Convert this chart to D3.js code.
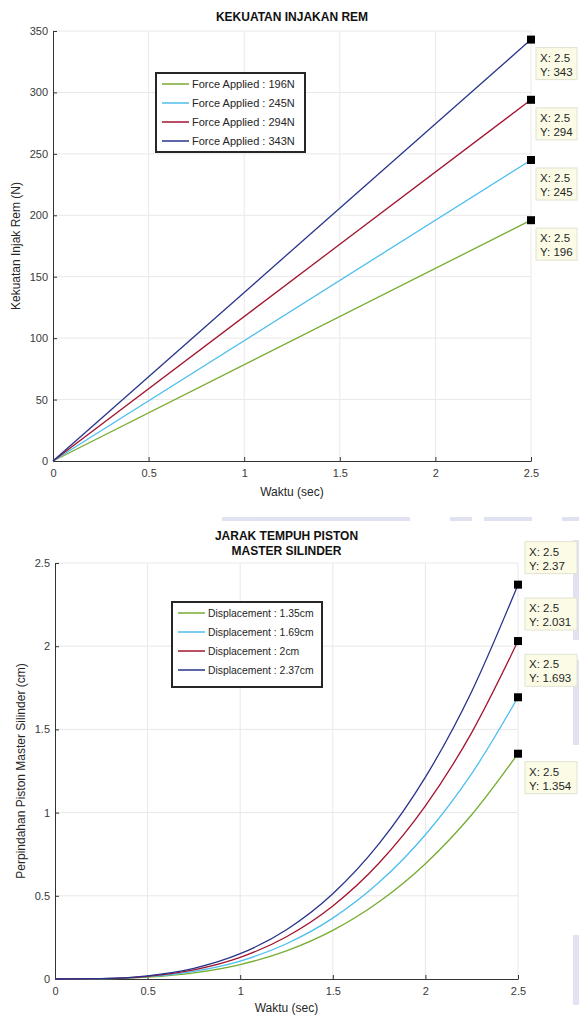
<!DOCTYPE html>
<html>
<head>
<meta charset="utf-8">
<script src="https://cdn.jsdelivr.net/npm/d3@7"></script>
<style>
    body{ margin:0; background:#fff; }
    .tick text{ font-family:"Liberation Sans", Arial, sans-serif; font-size:11px; fill:#3a3a3a; }
    .lbl{ font-family:"Liberation Sans", Arial, sans-serif; font-size:12px; fill:#262626; }
    .ttl{ font-family:"Liberation Sans", Arial, sans-serif; font-size:12px; font-weight:bold; fill:#111; }
    .leg{ font-family:"Liberation Sans", Arial, sans-serif; fill:#262626; }
    .tip{ font-family:"Liberation Sans", Arial, sans-serif; font-size:11.5px; fill:#262626; }
</style>
</head>
<body>
<script>
    // ---- data ----
    let colors = ["#77ac30", "#4dbeee", "#a2142f", "#27348b"]

    // chart 1: force vs time (straight lines)
    let forceTime = [0, 2.5]
    let forceNames = ["Force Applied : 196N", "Force Applied : 245N", "Force Applied : 294N", "Force Applied : 343N"]
    let forceVals = [[0, 196], [0, 245], [0, 294], [0, 343]]
    let forceTips = ["343", "294", "245", "196"]
    let forceYTicks = [0, 50, 100, 150, 200, 250, 300, 350]

    // chart 2: piston displacement vs time
    let dispTime = [0, 0.25, 0.5, 0.75, 1, 1.25, 1.5, 1.75, 2, 2.25, 2.5]
    let dispNames = ["Displacement : 1.35cm", "Displacement : 1.69cm", "Displacement : 2cm", "Displacement : 2.37cm"]
    let dispVals = [
        [0, 0.001, 0.011, 0.037, 0.087, 0.169, 0.292, 0.464, 0.693, 0.987, 1.354],
        [0, 0.002, 0.014, 0.046, 0.108, 0.212, 0.366, 0.581, 0.867, 1.234, 1.693],
        [0, 0.002, 0.016, 0.055, 0.130, 0.254, 0.439, 0.697, 1.040, 1.481, 2.031],
        [0, 0.002, 0.019, 0.064, 0.152, 0.296, 0.512, 0.813, 1.213, 1.728, 2.370]
    ]
    let dispTips = ["2.37", "2.031", "1.693", "1.354"]
    let dispYTicks = [0, 0.5, 1, 1.5, 2, 2.5]
    let xTicks = [0, 0.5, 1, 1.5, 2, 2.5]

    let w = 579, h = 1015
    let svg = d3.select("body").append("svg").attr("width", w).attr("height", h)

    // faint watermark left over from the scanned page
    let wm = svg.append("g").attr("fill", "#c8cce8").attr("opacity", 0.55)
    for (let r of [[222, 517, 188, 4], [450, 517, 22, 4], [484, 517, 48, 4], [562, 517, 17, 4],
                   [573, 540, 6, 100], [573, 660, 6, 85], [573, 935, 6, 70]]){
        wm.append("rect").attr("x", r[0]).attr("y", r[1]).attr("width", r[2]).attr("height", r[3])
    }

    function drawChart(opt){
        let x = d3.scaleLinear().domain([0, 2.5]).range([opt.x0, opt.x1])
        let y = d3.scaleLinear().domain(opt.yDomain).range([opt.y0, opt.y1])
        let g = svg.append("g")

        // grid
        g.selectAll(".gx").data(xTicks.slice(1)).join("line")
            .attr("x1", d => x(d)).attr("x2", d => x(d))
            .attr("y1", opt.y0).attr("y2", opt.y1)
            .attr("stroke", "#e8e8e8").attr("stroke-width", 1)
        g.selectAll(".gy").data(opt.yTicks.slice(1)).join("line")
            .attr("x1", opt.x0).attr("x2", opt.x1)
            .attr("y1", d => y(d)).attr("y2", d => y(d))
            .attr("stroke", "#e8e8e8").attr("stroke-width", 1)

        // axes (ticks point inward like matlab)
        let xa = g.append("g").attr("transform", "translate(0," + opt.y0 + ")")
            .call(d3.axisBottom(x).tickValues(xTicks).tickSizeInner(-4).tickSizeOuter(0).tickPadding(8).tickFormat(d3.format("")))
        let ya = g.append("g").attr("transform", "translate(" + opt.x0 + ",0)")
            .call(d3.axisLeft(y).tickValues(opt.yTicks).tickSizeInner(-4).tickSizeOuter(0).tickPadding(5).tickFormat(d3.format("")))
        for (let a of [xa, ya]){
            a.select(".domain").attr("stroke", "#333")
            a.selectAll(".tick line").attr("stroke", "#333")
        }

        // lines
        let line = d3.line().x(d => x(d[0])).y(d => y(d[1])).curve(d3.curveMonotoneX)
        opt.vals.forEach((s, i) => {
            g.append("path")
                .datum(opt.time.map((t, j) => [t, s[j]]))
                .attr("d", line)
                .attr("fill", "none")
                .attr("stroke", colors[i])
                .attr("stroke-width", 1.3)
        })

        // titles
        opt.title.forEach((t, i) => {
            g.append("text").attr("class", "ttl")
                .attr("x", (opt.x0 + opt.x1) / 2).attr("y", opt.titleY + i * 15)
                .attr("text-anchor", "middle").text(t)
        })
        g.append("text").attr("class", "lbl")
            .attr("x", (opt.x0 + opt.x1) / 2).attr("y", opt.xLabelY)
            .attr("text-anchor", "middle").text("Waktu (sec)")
        g.append("text").attr("class", "lbl")
            .attr("transform", "translate(" + opt.yLabelX + "," + (opt.y0 + opt.y1) / 2 + ") rotate(-90)")
            .attr("text-anchor", "middle").text(opt.yLabel)

        // legend
        let lg = g.append("g").attr("transform", "translate(" + opt.leg[0] + "," + opt.leg[1] + ")")
        lg.append("rect").attr("width", opt.leg[2]).attr("height", opt.leg[3])
            .attr("fill", "#fff").attr("stroke", "#262626").attr("stroke-width", 2)
        opt.names.forEach((n, i) => {
            let yy = 11 + i * 19
            lg.append("line").attr("x1", 6).attr("x2", 33).attr("y1", yy).attr("y2", yy)
                .attr("stroke", colors[i]).attr("stroke-width", 1.5)
            lg.append("text").attr("class", "leg").attr("font-size", opt.legFont)
                .attr("x", 36).attr("y", yy + 4).text(n)
        })

        // data tips
        opt.tips.forEach((t, i) => {
            let mx = x(2.5), my = y(+t)
            let above = opt.tipAbove[i]
            let by = above ? my - 43 : my + 8
            g.append("rect").attr("x", mx + opt.tipDx).attr("y", by)
                .attr("width", 577 - mx - opt.tipDx).attr("height", 32)
                .attr("fill", "#fbfbe6").attr("stroke", "#e2e2d2")
            g.append("text").attr("class", "tip").attr("x", mx + opt.tipDx + 4).attr("y", by + 14).text("X: 2.5")
            g.append("text").attr("class", "tip").attr("x", mx + opt.tipDx + 4).attr("y", by + 28).text("Y: " + t)
            g.append("rect").attr("x", mx - 4).attr("y", my - 4).attr("width", 8).attr("height", 8).attr("fill", "#000")
        })
    }

    drawChart({
        x0: 53, x1: 531, y0: 461, y1: 31, yDomain: [0, 350], yTicks: forceYTicks,
        time: forceTime, vals: forceVals, names: forceNames,
        title: ["KEKUATAN INJAKAN REM"], titleY: 21, xLabelY: 496, yLabelX: 20,
        yLabel: "Kekuatan Injak Rem (N)",
        leg: [156, 73, 149, 79], legFont: "11px",
        tips: forceTips, tipAbove: [false, false, false, false], tipDx: 5
    })

    drawChart({
        x0: 55, x1: 518, y0: 979, y1: 563, yDomain: [0, 2.5], yTicks: dispYTicks,
        time: dispTime, vals: dispVals, names: dispNames,
        title: ["JARAK TEMPUH PISTON", "MASTER SILINDER"], titleY: 540, xLabelY: 1012, yLabelX: 25,
        yLabel: "Perpindahan Piston Master Silinder (cm)",
        leg: [172, 602, 150, 85], legFont: "10.4px",
        tips: dispTips, tipAbove: [true, true, true, false], tipDx: 7
    })
</script>
</body>
</html>
